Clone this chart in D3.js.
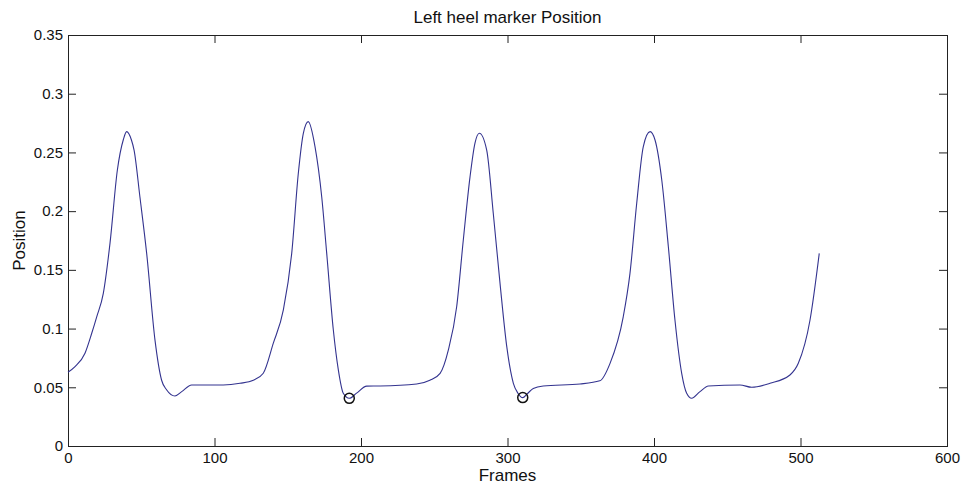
<!DOCTYPE html>
<html>
<head>
<meta charset="utf-8">
<script src="https://cdn.jsdelivr.net/npm/d3@7"></script>
<style>
  html, body { margin: 0; padding: 0; background: #fff; }
  svg { display: block; font-family: "Liberation Sans", Arial, Helvetica, sans-serif; }
</style>
</head>
<body>
<svg id="chart" width="962" height="486"></svg>
<script>
// Left heel marker vertical position per frame
const frames = [0, 4.8, 11.6, 16.2, 19.6, 24.1, 28.7, 33.7, 37.8, 40, 43.3, 45.1, 49.1, 53.7, 59.4, 63.9, 67.4, 73, 77.6, 84.4, 106, 117.4, 126.5, 133.3, 140.1, 147, 152.7, 157.2, 160.6, 164, 168.6, 173.2, 176.6, 181.1, 184.5, 187.9, 192, 197, 203.9, 213, 238, 247, 254, 259.6, 265.3, 269.8, 274.4, 277.8, 280.8, 285.8, 290.3, 294.9, 299.5, 304, 307, 310.4, 313.5, 317.6, 324.4, 349.5, 363, 370, 379, 383.6, 388.2, 392.7, 397.3, 400.7, 405.3, 409.8, 414.3, 418.9, 422.3, 425.7, 431.4, 437.1, 458.7, 466.7, 479.2, 492.8, 498.5, 506.5, 512.8];
const positions = [0.0628, 0.0676, 0.079, 0.096, 0.110, 0.130, 0.173, 0.235, 0.261, 0.2677, 0.2606, 0.252, 0.212, 0.164, 0.090, 0.056, 0.0477, 0.0426, 0.0463, 0.052, 0.052, 0.0534, 0.056, 0.062, 0.0874, 0.116, 0.164, 0.232, 0.266, 0.2762, 0.255, 0.212, 0.164, 0.099, 0.065, 0.0449, 0.0406, 0.045, 0.051, 0.0511, 0.0528, 0.056, 0.0619, 0.0817, 0.1186, 0.175, 0.229, 0.258, 0.2663, 0.252, 0.198, 0.1385, 0.0846, 0.0534, 0.0452, 0.0412, 0.0445, 0.049, 0.0511, 0.0528, 0.0555, 0.0704, 0.110, 0.147, 0.2067, 0.255, 0.2677, 0.2606, 0.2265, 0.1697, 0.1073, 0.0619, 0.0449, 0.0406, 0.0463, 0.0511, 0.052, 0.050, 0.0534, 0.0605, 0.0704, 0.1073, 0.164];

// Detected heel-strike events
const eventFrames = [192, 310.4];
const eventPositions = [0.0406, 0.0412];

const xTicks = [0, 100, 200, 300, 400, 500, 600];
const xTickLabels = ["0", "100", "200", "300", "400", "500", "600"];
const yTicks = [0, 0.05, 0.1, 0.15, 0.2, 0.25, 0.3, 0.35];
const yTickLabels = ["0", "0.05", "0.1", "0.15", "0.2", "0.25", "0.3", "0.35"];

const titleText = "Left heel marker Position";
const xLabelText = "Frames";
const yLabelText = "Position";

const plotLeft = 68, plotRight = 947, plotTop = 35, plotBottom = 446;
const svg = d3.select("#chart");

const x = d3.scaleLinear().domain([0, 600]).range([plotLeft, plotRight]);
const y = d3.scaleLinear().domain([0, 0.35]).range([plotBottom, plotTop]);

const axisColor = "#222";

function styleAxis(g, showText) {
  g.selectAll("line").attr("stroke", axisColor).attr("stroke-width", 1);
  g.selectAll("path.domain").remove();
  g.selectAll("text").attr("fill", "#111").style("font-size", "15px");
  if (!showText) g.selectAll("text").remove();
}

svg.append("g")
  .attr("transform", `translate(0,${plotBottom})`)
  .call(d3.axisBottom(x).tickValues(xTicks).tickFormat((d, i) => xTickLabels[i]).tickSize(-8).tickPadding(6))
  .call(g => styleAxis(g, true));

svg.append("g")
  .attr("transform", `translate(0,${plotTop})`)
  .call(d3.axisTop(x).tickValues(xTicks).tickSize(-8))
  .call(g => styleAxis(g, false));

svg.append("g")
  .attr("transform", `translate(${plotLeft},0)`)
  .call(d3.axisLeft(y).tickValues(yTicks).tickFormat((d, i) => yTickLabels[i]).tickSize(-8).tickPadding(5))
  .call(g => styleAxis(g, true));

svg.append("g")
  .attr("transform", `translate(${plotRight},0)`)
  .call(d3.axisRight(y).tickValues(yTicks).tickSize(-8))
  .call(g => styleAxis(g, false));

// Axes box
svg.append("rect")
  .attr("x", plotLeft + 0.5).attr("y", plotTop + 0.5)
  .attr("width", plotRight - plotLeft).attr("height", plotBottom - plotTop)
  .attr("fill", "none").attr("stroke", axisColor).attr("stroke-width", 1);

// Trace
const line = d3.line()
  .x((d, i) => x(frames[i]))
  .y((d, i) => y(positions[i]))
  .curve(d3.curveMonotoneX);

svg.append("path")
  .datum(frames)
  .attr("d", line)
  .attr("fill", "none")
  .attr("stroke", "#33338f")
  .attr("stroke-width", 1.1);

// Event markers
svg.selectAll("circle.event")
  .data(eventFrames)
  .enter().append("circle")
  .attr("class", "event")
  .attr("cx", (d) => x(d))
  .attr("cy", (d, i) => y(eventPositions[i]))
  .attr("r", 5)
  .attr("fill", "none")
  .attr("stroke", "#111")
  .attr("stroke-width", 1.5);

// Title and axis labels
svg.append("text")
  .attr("x", (plotLeft + plotRight) / 2).attr("y", 23)
  .attr("text-anchor", "middle")
  .style("font-size", "17px").attr("fill", "#111")
  .text(titleText);

svg.append("text")
  .attr("x", (plotLeft + plotRight) / 2).attr("y", 481)
  .attr("text-anchor", "middle")
  .style("font-size", "17px").attr("fill", "#111")
  .text(xLabelText);

svg.append("text")
  .attr("transform", `translate(25,${(plotTop + plotBottom) / 2}) rotate(-90)`)
  .attr("text-anchor", "middle")
  .style("font-size", "17px").attr("fill", "#111")
  .text(yLabelText);
</script>
</body>
</html>
